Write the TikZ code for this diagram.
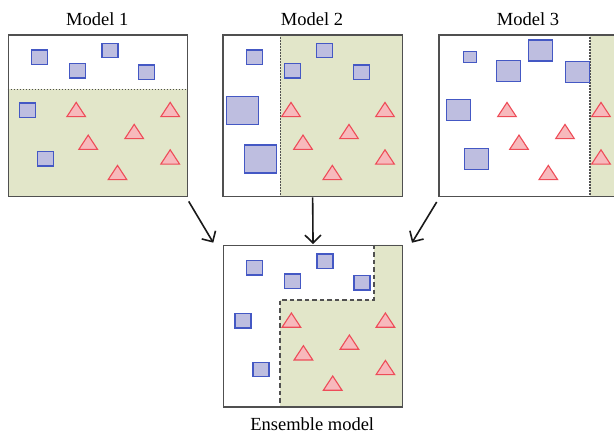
\documentclass[tikz,border=0pt]{standalone}
\usepackage{fontspec}
\setmainfont{Liberation Serif}
\usetikzlibrary{arrows.meta,calc}

\definecolor{field}{RGB}{226,230,201}
\definecolor{sqfill}{RGB}{190,190,224}
\definecolor{sqline}{RGB}{68,88,196}
\definecolor{trfill}{RGB}{247,185,188}
\definecolor{trline}{RGB}{238,76,88}
\definecolor{frame}{RGB}{80,80,80}

\tikzset{
  panel/.style={draw=frame, line width=1.3pt, minimum width=179.4pt,
    minimum height=161.7pt, inner sep=0pt, anchor=north west},
  cls/.style={fill=sqfill, draw=sqline, line width=1.3pt},
  tri/.style={fill=trfill, draw=trline, line width=1.1pt, line join=miter},
  region/.style={fill=field},
  split/.style={draw=frame, line width=1.4pt, dash pattern=on 1.2pt off 1.8pt},
  merge/.style={draw=frame, line width=1.4pt, dash pattern=on 4.5pt off 3pt},
  flow/.style={line width=1.6pt, draw=black!90,
    -{Straight Barb[length=8pt,width=16pt]}},
  title/.style={anchor=base, font=\fontsize{18.5}{22}\selectfont},
}

% square of class "blue", centred at (#1,#2), width #3, height #4
\newcommand\boxat[4]{\path[cls] ({#1-#3/2},{#2-#4/2}) rectangle ({#1+#3/2},{#2+#4/2});}
% triangle of class "red", apex at (#1,#2)
\newcommand\triat[2]{\path[tri] ({#1-9.35},{#2+14.3}) -- (#1,#2) -- ({#1+9.35},{#2+14.3}) -- cycle;}
% the shared data set; #1/#2 size of first square, #3/#4 of the next three, #5/#6 of the last two
\newcommand\scatterset[6]{%
  \boxat{31.9}{22.9}{#1}{#2}
  \boxat{102.4}{16.2}{#3}{#4}
  \boxat{69.9}{36.4}{#3}{#4}
  \boxat{139.2}{37.9}{#3}{#4}
  \boxat{20.2}{75.9}{#5}{#6}
  \boxat{38.2}{124.5}{#5}{#6}
  \triat{68.7}{68}
  \triat{162.7}{68}
  \triat{126.7}{90}
  \triat{80.7}{100.7}
  \triat{162.7}{115.4}
  \triat{110}{131}
}

\begin{document}
\begin{tikzpicture}[x=1pt,y=-1pt]
\clip (0,0) rectangle (614,435);

% Model 1: horizontal split
\begin{scope}[shift={(7.5,34.4)}]
  \fill[region] (0,55) rectangle (179.4,161.7);
  \node[panel] (p1) at (0,0) {};
  \draw[split] (0,55) -- (179.4,55);
  \scatterset{16}{14.5}{16}{14.5}{16}{14.5}
\end{scope}

% Model 2: vertical split on the left
\begin{scope}[shift={(222.3,34.4)}]
  \fill[region] (58,0) rectangle (179.4,161.7);
  \node[panel] (p2) at (0,0) {};
  \draw[split] (58,0) -- (58,161.7);
  \scatterset{16}{14.5}{16}{14.5}{32}{28}
\end{scope}

% Model 3: vertical split on the right
\begin{scope}[shift={(438.3,34.4)}]
  \fill[region] (151.7,0) rectangle (179.4,161.7);
  \node[panel] (p3) at (0,0) {};
  \draw[split] (151.7,0) -- (151.7,161.7);
  \scatterset{13}{11}{24}{21}{24}{21}
\end{scope}

% Ensemble: combined boundary
\begin{scope}[shift={(222.7,245)}]
  \fill[region] (151.3,0) -- (179.4,0) -- (179.4,161.3) -- (57.3,161.3)
    -- (57.3,55) -- (151.3,55) -- cycle;
  \node[panel, minimum height=161.3pt] (ens) at (0,0) {};
  \draw[merge] (151.3,0) -- (151.3,55) -- (57.3,55) -- (57.3,161.3);
  \scatterset{16}{14.5}{16}{14.5}{16}{14.5}
\end{scope}

% titles
\node[title] (t1) at (97.2,25.7) {Model 1};
\node[title] (t2) at (312,25.7) {Model 2};
\node[title] (t3) at (528,25.7) {Model 3};
\node[title] (t4) at (312.2,431) {Ensemble model};

% arrows into the ensemble
\draw[flow] ($(p1.south east)+(0.5,4)$) -- ($(ens.north west)+(-9.4,-2.3)$);
\draw[flow] (p2.south) -- ($(ens.north)+(0,-0.8)$);
\draw[flow] ($(p3.south west)+(-1.6,4.6)$) -- ($(ens.north east)+(8.6,-2.3)$);
\end{tikzpicture}
\end{document}
